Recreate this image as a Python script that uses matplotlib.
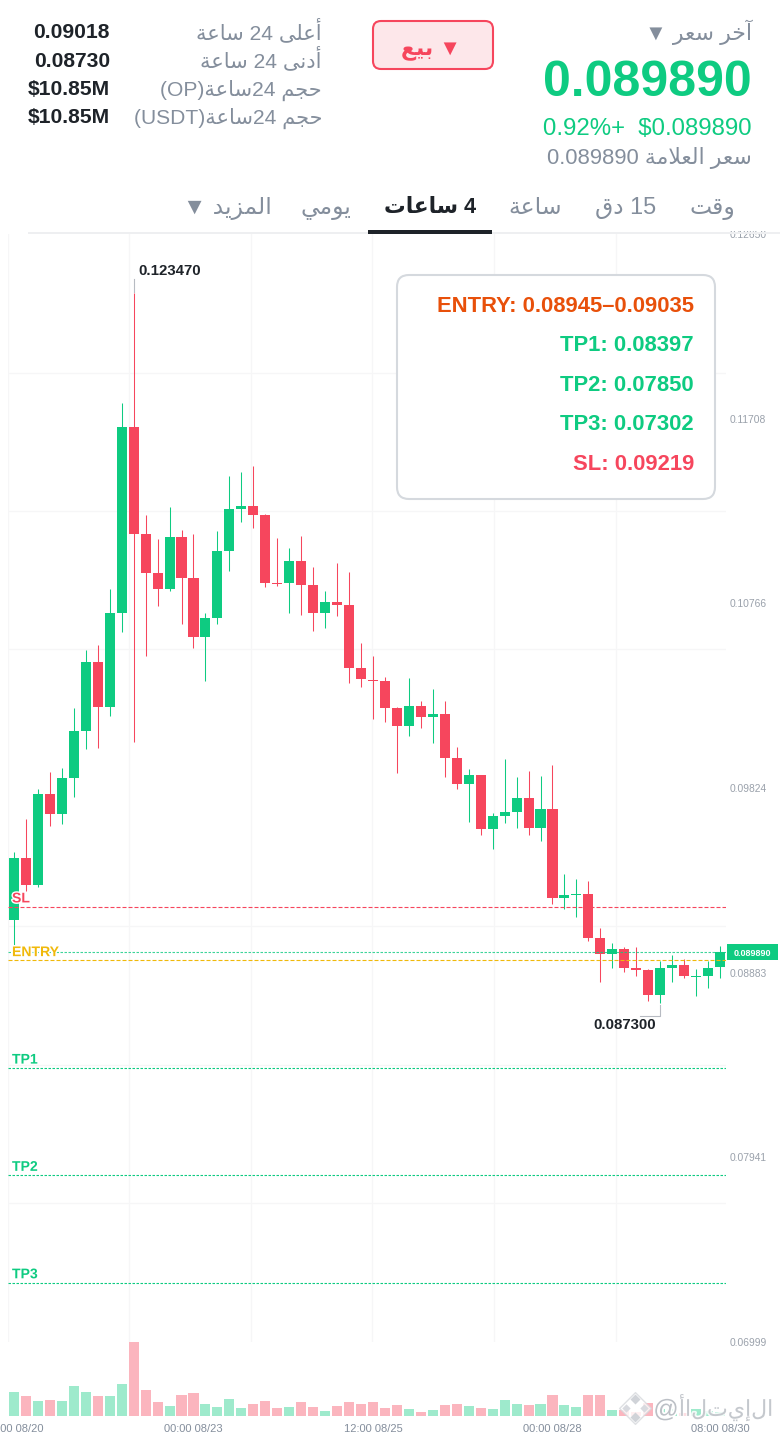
import re
import matplotlib
matplotlib.use("Agg")
import matplotlib.pyplot as plt
import matplotlib.patheffects as pe
from matplotlib.patches import FancyBboxPatch, Rectangle

# ---- data ----
opens = [.09149,.09467,.09329,.09793,.09693,.09877,.10116,.10467,.10237,.10715,
         .11664,.11119,.10921,.10837,.11106,.10895,.10596,.10690,.11033,.11247,
         .11262,.11219,.10870,.10868,.10982,.10859,.10715,.10773,.10756,.10436,
         .10377,.10370,.10232,.10142,.10242,.10188,.10203,.09976,.09843,.09890,
         .09615,.09680,.09703,.09773,.09619,.09717,.09263,.09278,.09283,.09059,
         .08977,.09001,.08908,.08896,.08768,.08908,.08923,.08860,.08865,.08910]
closes = [.09467,.09329,.09793,.09693,.09877,.10116,.10467,.10237,.10715,.11664,
          .11119,.10921,.10837,.11106,.10895,.10596,.10690,.11033,.11248,.11262,
          .11219,.10871,.10864,.10982,.10859,.10715,.10773,.10756,.10436,.10380,
          .10370,.10232,.10142,.10242,.10188,.10201,.09976,.09843,.09890,.09616,
          .09680,.09702,.09773,.09620,.09717,.09265,.09278,.09283,.09060,.08977,
          .09001,.08908,.08898,.08768,.08906,.08921,.08864,.08865,.08906,.08989]
highs = [.09498,.09667,.09819,.09906,.09926,.10234,.10528,.10555,.10839,.11789,
         .12347,.11216,.11092,.11259,.11141,.11119,.10718,.11136,.11415,.11434,
         .11466,.11221,.11099,.11048,.11108,.10951,.10830,.10970,.10926,.10562,
         .10497,.10389,.10239,.10387,.10269,.10329,.10268,.10035,.09921,.09890,
         .09698,.09973,.09880,.09911,.09885,.09941,.09387,.09360,.09350,.09110,
         .09034,.09013,.09015,.08902,.08942,.08972,.08952,.08899,.08942,.09017]
lows = [.09023,.09300,.09321,.09632,.09640,.09778,.10023,.10030,.10190,.10620,
        .10059,.10496,.10751,.10827,.10662,.10540,.10368,.10662,.10929,.11182,
        .11150,.10851,.10856,.10718,.10705,.10626,.10639,.10703,.10360,.10339,
        .10176,.10162,.09902,.10091,.10132,.10055,.09882,.09819,.09652,.09584,
        .09513,.09647,.09619,.09584,.09555,.09231,.09205,.09166,.09042,.08833,
        .08904,.08887,.08867,.08736,.08730,.08836,.08854,.08765,.08803,.08857]
volumes = [7.1,5.9,4.6,4.8,4.5,8.9,7.1,6.0,6.0,9.7,
           22.2,7.7,4.2,3.0,6.3,6.8,3.7,2.6,5.1,2.3,
           3.6,4.5,2.4,2.6,4.2,2.6,1.5,3.0,4.1,3.6,
           4.2,2.4,3.2,2.0,1.2,1.8,3.2,3.6,3.0,2.3,
           2.2,4.9,3.5,3.3,3.5,6.3,3.2,2.6,6.3,6.4,
           1.8,1.8,1.3,3.9,2.0,2.0,0.8,2.2,1.5,1.2]

price_label_ticks = [0.12650,0.11708,0.10766,0.09824,0.08883,0.07941,0.06999]
price_grid = [0.12650,0.11941,0.11237,0.10533,0.09824,0.09120,0.08411,0.07708,0.06999]
time_grid = [-0.5,9.6,19.8,29.95,40.1,50.32]
time_tick_pos = [0,15,30,45,59]
time_tick_labels = ["00:00 08/20","00:00 08/23","12:00 08/25","00:00 08/28","08:00 08/30"]

last_price = 0.08989
sl = 0.09219
entry = 0.08945
tp1, tp2, tp3 = 0.08397, 0.07850, 0.07302
max_price, min_price = 0.12347, 0.08730

info_lines = ["ENTRY: 0.08945–0.09035","TP1: 0.08397","TP2: 0.07850","TP3: 0.07302","SL: 0.09219"]
stats_vals = ["0.09018","0.08730","$10.85M","$10.85M"]
stats_labels = ["أعلى 24 ساعة","أدنى 24 ساعة","حجم 24ساعة(OP)","حجم 24ساعة(USDT)"]
tabs = ["وقت","15 دق","ساعة","4 ساعات","يومي","المزيد ▼"]

GREEN,RED,GOLD,GREY,DARK,GRID = "#0ecb81","#f6465d","#f0b90b","#848e9c","#1e2329","#f6f6f7"
W,H = 780,1434
plt.rcParams['font.family'] = ['Liberation Sans','DejaVu Sans']

# ---- Arabic shaping for matplotlib (no built-in joining or bidi) ----
FORMS = {'ء':(0xFE80,),'آ':(0xFE81,0xFE82),'أ':(0xFE83,0xFE84),'إ':(0xFE87,0xFE88),'ا':(0xFE8D,0xFE8E),
 'ب':(0xFE8F,0xFE90,0xFE91,0xFE92),'ة':(0xFE93,0xFE94),'ت':(0xFE95,0xFE96,0xFE97,0xFE98),
 'ج':(0xFE9D,0xFE9E,0xFE9F,0xFEA0),'ح':(0xFEA1,0xFEA2,0xFEA3,0xFEA4),'خ':(0xFEA5,0xFEA6,0xFEA7,0xFEA8),
 'د':(0xFEA9,0xFEAA),'ر':(0xFEAD,0xFEAE),'ز':(0xFEAF,0xFEB0),'س':(0xFEB1,0xFEB2,0xFEB3,0xFEB4),
 'ع':(0xFEC9,0xFECA,0xFECB,0xFECC),'ق':(0xFED5,0xFED6,0xFED7,0xFED8),'ل':(0xFEDD,0xFEDE,0xFEDF,0xFEE0),
 'م':(0xFEE1,0xFEE2,0xFEE3,0xFEE4),'ن':(0xFEE5,0xFEE6,0xFEE7,0xFEE8),'و':(0xFEED,0xFEEE),
 'ى':(0xFEEF,0xFEF0),'ي':(0xFEF1,0xFEF2,0xFEF3,0xFEF4)}
def shape(word):
    out=[]; i=0; n=len(word)
    joins_next=lambda c: len(FORMS.get(c,()))==4
    while i<n:
        c=word[i]; prev = joins_next(word[i-1]) if i else False
        if c=='ل' and i+1<n and word[i+1]=='ا':
            out.append(chr(0xFEFC if prev else 0xFEFB)); i+=2; continue
        f=FORMS[c]; nxt = i+1<n and word[i+1] in FORMS and len(f)==4
        if prev and nxt: g=f[3]
        elif prev and len(f)>1: g=f[1]
        elif nxt: g=f[2]
        else: g=f[0]
        out.append(chr(g)); i+=1
    return ''.join(reversed(out))
def ar(s):
    runs=re.findall(r'[\u0621-\u064A]+|\s+|[^\s\u0621-\u064A]+',s)
    return ''.join(shape(r) if re.match(r'[\u0621-\u064A]',r) else r for r in reversed(runs))

fig = plt.figure(figsize=(W/100,H/100),dpi=100,facecolor='white')
def axpx(x0,y0,x1,y1,**k):
    return fig.add_axes([x0/W,1-y1/H,(x1-x0)/W,(y1-y0)/H],**k)

# ---- price axes ----
ax = axpx(8,234,726,1342,zorder=1)
ax.set_xlim(-0.5,59.5); ax.set_ylim(0.06999,0.12650)
for s in ax.spines.values(): s.set_visible(False)
ax.set_axisbelow(True)
ax.yaxis.tick_right()
ax.set_yticks(price_label_ticks)
ax.set_yticklabels([f"{v:.5f}" for v in price_label_ticks],fontsize=7.4,color="#9aa1ab")
ax.set_yticks(price_grid,minor=True); ax.set_xticks(time_grid,minor=True); ax.set_xticks([])
ax.tick_params(axis='y',which='major',length=0,pad=2.6)
ax.tick_params(which='minor',length=0)
ax.grid(which='minor',color=GRID,lw=0.9)
ax.grid(which='major',visible=False)

idx = list(range(len(opens)))
colors = [GREEN if c>=o else RED for o,c in zip(opens,closes)]
ax.vlines(idx,lows,highs,colors=colors,lw=0.75,zorder=2)
bottoms=[min(o,c) for o,c in zip(opens,closes)]
heights=[max(abs(c-o),0.00006) for o,c in zip(opens,closes)]
ax.bar(idx,heights,bottom=bottoms,width=0.84,color=colors,lw=0,zorder=3)

halo=[pe.withStroke(linewidth=2,foreground='white')]
ax.axhline(sl,color=RED,lw=0.8,ls=(0,(3.6,1.8)),zorder=4)
ax.axhline(entry,color=GOLD,lw=0.8,ls=(0,(3.6,1.8)),zorder=4)
ax.axhline(last_price,color=GREEN,lw=0.8,ls=(0,(2.25,1.35)),alpha=.8,zorder=4)
for t in (tp1,tp2,tp3):
    ax.axhline(t,color=GREEN,lw=0.8,ls=(0,(2.25,1.35)),zorder=4)
for txt,val,col in (("SL",sl,RED),("ENTRY",entry,GOLD),("TP1",tp1,GREEN),("TP2",tp2,GREEN),("TP3",tp3,GREEN)):
    ax.annotate(txt,xy=(0,val),xycoords=('axes fraction','data'),xytext=(4*.72,8.3*.72),textcoords='offset points',
                color=col,fontsize=10.1,fontweight='bold',va='center',ha='left',path_effects=halo,zorder=6)

# ---- volume axes ----
vx = axpx(8,1342,726,1416,zorder=1)
vx.set_xlim(-0.5,59.5); vx.set_ylim(0,22.2)
for s in vx.spines.values(): s.set_visible(False)
vx.bar(idx,volumes,width=0.84,color=colors,alpha=.4,lw=0)
vx.set_yticks([]); vx.set_xticks(time_tick_pos); vx.set_xticklabels(time_tick_labels,fontsize=8,color=GREY)
vx.tick_params(axis='x',length=0,pad=5.8)

# ---- overlay in reference pixels: header, box, tags ----
ov = axpx(0,0,W,H,zorder=5); ov.set_xlim(0,W); ov.set_ylim(H,0); ov.axis('off'); ov.patch.set_alpha(0)
ov.add_patch(Rectangle((0,0),W,231,fc='white',ec='none'))
def T(x,y,s,px,col,ha='right',bold=False,**k):
    # y is the centre of the digit height; baseline alignment keeps mixed fonts level
    return ov.text(x,y+0.358*px,s,fontsize=px*.72,color=col,ha=ha,va='baseline',fontweight='bold' if bold else 'normal',**k)

# annotation leaders
ov.plot([133.5,133.5],[279,292],color="#b7bbc2",lw=0.8)
ov.plot([660,660,640],[1005,1016,1016],color="#b7bbc2",lw=0.8)
T(138,270,"0.123470",15,DARK,ha='left',bold=True)
T(656,1024,"0.087300",15,DARK,bold=True)

# last price tag
ov.add_patch(Rectangle((727,944),51,16,fc=GREEN,ec='none'))
T(752.5,952.5,"0.089890",9,'white',ha='center',bold=True)

# info box
ov.add_patch(FancyBboxPatch((405,283),302,208,boxstyle="round,pad=8,rounding_size=12",fc='white',ec="#d5d9de",lw=1.5))
for y,s,c in zip([304,343,383,422,462],info_lines,["#e8500a",GREEN,GREEN,GREEN,RED]):
    T(694,y,s,22,c,bold=True)

# header
T(752,32,ar("آخر سعر ▼"),22,GREY)
T(752,78.5,"0.089890",50,GREEN,bold=True)
T(752,126,"0.92%+  $0.089890",24,GREEN)
T(752,156.5,ar("سعر العلامة 0.089890"),22,GREY)
for y,ly,v,l in zip([30,59,87,115],[31.5,60,88.5,116.5],stats_vals,stats_labels):
    T(110,y,v,21.2,DARK,bold=True)
    T(322,ly,ar(l),21,GREY)
ov.add_patch(FancyBboxPatch((381,29),104,32,boxstyle="round,pad=8,rounding_size=8",fc="#fde7ea",ec=RED,lw=1.5))
T(431,47,ar("▼ بيع"),22,RED,ha='center',bold=True)

for x,s in zip([712.5,626,535,430,326,227],tabs):
    act = s=="4 ساعات"
    T(x,205.5,ar(s),21.6 if act else 23.5,DARK if act else GREY,ha='center',bold=act)
ov.add_patch(Rectangle((28,232),752,2,fc="#eeeff1",ec='none'))
ov.add_patch(Rectangle((368,230),124,4,fc=DARK,ec='none'))

# watermark
WM="#bcc0c6"
stroke=[pe.withStroke(linewidth=2.5,foreground='white')]
ov.scatter([635],[1408],marker='D',s=260,c='white',alpha=.8,linewidths=1,edgecolors='#d6d8dc',zorder=6)
ov.scatter([635,635],[1399,1417],marker='D',s=26,c='#d0d3d8',linewidths=0,zorder=7)
ov.scatter([626,644],[1408,1408],marker='D',s=18,c='#d8dadf',linewidths=0,zorder=7)
T(666,1408,"@",25,WM,ha='center',path_effects=stroke,zorder=7)
T(773,1408,''.join(reversed("الإيتلاأ")),22,WM,alpha=.85,path_effects=stroke,zorder=7)

fig.savefig("out.png",dpi=100)
